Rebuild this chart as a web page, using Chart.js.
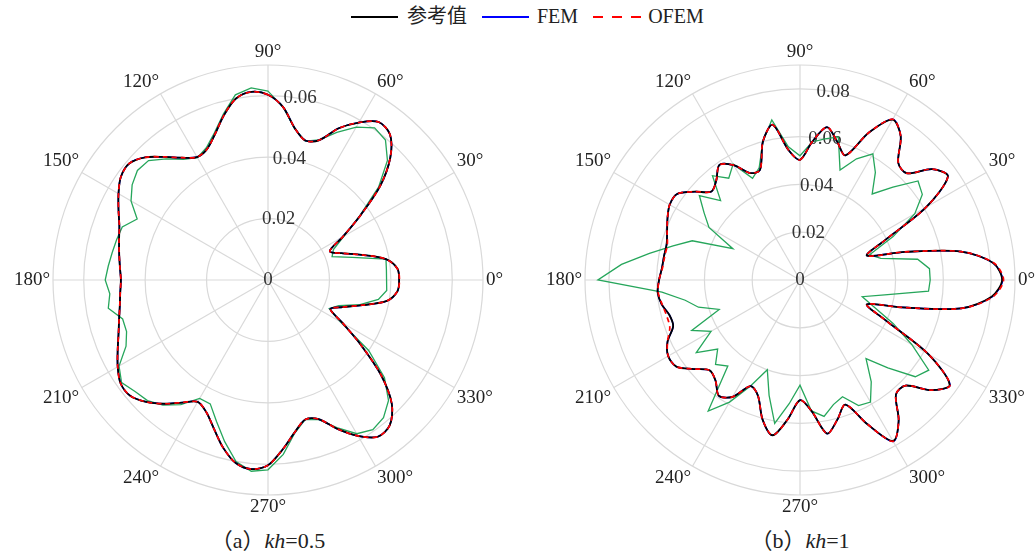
<!DOCTYPE html>
<html>
<head>
<meta charset="utf-8">
<script src="https://cdn.jsdelivr.net/npm/chart.js@4.4.0/dist/chart.umd.min.js"></script>
<style>
  body { margin: 0; width: 1036px; height: 555px; overflow: hidden; background: #fff; position: relative;
         font-family: "Liberation Serif", "Noto Sans CJK SC", serif; color: #222; }
  .plot { position: absolute; top: 43px; width: 600px; height: 474px; }
  .legend { position: absolute; top: 5px; left: 351px; display: flex; align-items: center;
            font-size: 20px; line-height: 23px; white-space: nowrap; }
  .swatch { display: inline-block; width: 47px; height: 2px; }
  .caption { position: absolute; top: 529px; width: 240px; text-align: center; font-size: 22px; line-height: 24px; }
</style>
</head>
<body>
<div class="legend">
  <span class="swatch" style="background:#000;margin-right:9px"></span><span style="margin-right:15px">参考值</span>
  <span class="swatch" style="background:#0000ff;margin-right:8px"></span><span style="margin-right:15px">FEM</span>
  <span class="swatch" style="width:49px;margin-right:6px;background:repeating-linear-gradient(90deg,#ff0000 0 10px,transparent 10px 19px)"></span><span>OFEM</span>
</div>
<div class="plot" style="left:-32px"><canvas id="chartA" width="600" height="474"></canvas></div>
<div class="plot" style="left:500px"><canvas id="chartB" width="600" height="474"></canvas></div>
<div class="caption" style="left:148px">（a）<i>kh</i>=0.5</div>
<div class="caption" style="left:680px">（b）<i>kh</i>=1</div>
<script>
// Angles of the samples, degrees, counter-clockwise from 0° (right)
const angles = Array.from({ length: 72 }, (_, i) => i * 5);

// Radial tick labels
const tickValuesA = [0, 0.02, 0.04, 0.06];
const tickValuesB = [0, 0.02, 0.04, 0.06, 0.08];
const maxA = 0.07;
const maxB = 0.09;

// (a) kh=0.5, one value per angle in `angles`
const refA = [0.0427, 0.0423, 0.039, 0.0316, 0.0255, 0.0222, 0.0281, 0.0368, 0.0477, 0.0563, 0.0618, 0.0628,
  0.0592, 0.0545, 0.0484, 0.047, 0.0502, 0.0565, 0.0603, 0.0615, 0.06, 0.0555, 0.0505, 0.047,
  0.0462, 0.0486, 0.0523, 0.0565, 0.059, 0.0585, 0.0562, 0.0537, 0.0515, 0.0502, 0.0492, 0.0484,
  0.0479, 0.0483, 0.049, 0.0502, 0.0518, 0.054, 0.0565, 0.0586, 0.0586, 0.0561, 0.0526, 0.0487,
  0.0458, 0.0475, 0.0515, 0.0565, 0.0605, 0.0618, 0.0603, 0.0553, 0.0503, 0.047, 0.0482, 0.0535,
  0.0586, 0.0623, 0.0617, 0.057, 0.048, 0.037, 0.0281, 0.0224, 0.0258, 0.0317, 0.0393, 0.0423];
const femA = [0.0427, 0.0423, 0.039, 0.0316, 0.0255, 0.0222, 0.0281, 0.0368, 0.0477, 0.0563, 0.0618, 0.0628,
  0.0592, 0.0545, 0.0484, 0.047, 0.0502, 0.0565, 0.0603, 0.0615, 0.06, 0.0555, 0.0505, 0.047,
  0.0462, 0.0486, 0.0523, 0.0565, 0.059, 0.0585, 0.0562, 0.0537, 0.0515, 0.0502, 0.0492, 0.0484,
  0.0479, 0.0483, 0.049, 0.0502, 0.0518, 0.054, 0.0565, 0.0586, 0.0586, 0.0561, 0.0526, 0.0487,
  0.0458, 0.0475, 0.0515, 0.0565, 0.0605, 0.0618, 0.0603, 0.0553, 0.0503, 0.047, 0.0482, 0.0535,
  0.0586, 0.0623, 0.0617, 0.057, 0.048, 0.037, 0.0281, 0.0224, 0.0258, 0.0317, 0.0393, 0.0423];
const ofemA = [0.0428, 0.0423, 0.039, 0.0316, 0.0255, 0.0222, 0.0281, 0.0368, 0.0477, 0.0563, 0.0618, 0.0628,
  0.0592, 0.0545, 0.0484, 0.047, 0.0502, 0.0565, 0.0603, 0.0615, 0.06, 0.0555, 0.0505, 0.047,
  0.0462, 0.0486, 0.0523, 0.0565, 0.059, 0.0585, 0.0562, 0.0537, 0.0515, 0.0502, 0.0492, 0.0484,
  0.0479, 0.0483, 0.049, 0.0502, 0.0518, 0.054, 0.0565, 0.0586, 0.0586, 0.0561, 0.0526, 0.0487,
  0.0458, 0.0475, 0.0515, 0.0565, 0.0605, 0.0618, 0.0603, 0.0553, 0.0503, 0.047, 0.0482, 0.0535,
  0.0586, 0.0623, 0.0617, 0.057, 0.048, 0.037, 0.0281, 0.0224, 0.0258, 0.0317, 0.0393, 0.0423];
const greenA = [0.0386, 0.0387, 0.039, 0.0284, 0.0222, 0.0235, 0.0285, 0.0365, 0.047, 0.055, 0.0595, 0.0605,
  0.0575, 0.053, 0.0485, 0.0468, 0.05, 0.0565, 0.0615, 0.0628, 0.0612, 0.056, 0.051, 0.0475,
  0.046, 0.048, 0.0515, 0.055, 0.0555, 0.054, 0.0515, 0.047, 0.0505, 0.051, 0.0515, 0.0522,
  0.053, 0.0517, 0.0528, 0.049, 0.049, 0.051, 0.056, 0.0582, 0.0565, 0.0555, 0.0532, 0.0495,
  0.0445, 0.0445, 0.049, 0.0545, 0.06, 0.0625, 0.0618, 0.057, 0.0505, 0.047, 0.0484, 0.053,
  0.0578, 0.0595, 0.0585, 0.0555, 0.0495, 0.04, 0.0272, 0.022, 0.0245, 0.031, 0.0365, 0.0388];

// (b) kh=1
const refB = [0.0846, 0.0812, 0.0685, 0.0454, 0.0298, 0.039, 0.061, 0.0756, 0.0722, 0.0632, 0.064, 0.0735,
  0.0775, 0.068, 0.0555, 0.06, 0.065, 0.058, 0.0503, 0.0545, 0.066, 0.06, 0.049, 0.0494,
  0.0555, 0.0588, 0.0545, 0.0524, 0.0575, 0.0628, 0.063, 0.0612, 0.0592, 0.0578, 0.0578, 0.058,
  0.059, 0.0598, 0.0588, 0.0566, 0.0565, 0.0612, 0.0637, 0.0632, 0.058, 0.0535, 0.055, 0.0592,
  0.0565, 0.049, 0.0515, 0.0605, 0.066, 0.0585, 0.0503, 0.055, 0.0653, 0.0605, 0.0555, 0.0665,
  0.0778, 0.072, 0.0625, 0.0625, 0.0717, 0.0765, 0.062, 0.039, 0.0298, 0.0443, 0.0685, 0.0805];
const femB = [0.0848, 0.0812, 0.0685, 0.0454, 0.0298, 0.039, 0.061, 0.0756, 0.0722, 0.0632, 0.064, 0.0735,
  0.0777, 0.068, 0.0555, 0.06, 0.065, 0.058, 0.0503, 0.0545, 0.066, 0.06, 0.049, 0.0494,
  0.0555, 0.0588, 0.0545, 0.0524, 0.0575, 0.0628, 0.063, 0.0612, 0.0592, 0.0578, 0.0578, 0.058,
  0.059, 0.0598, 0.0588, 0.0566, 0.0565, 0.0612, 0.0637, 0.0632, 0.058, 0.0535, 0.055, 0.0592,
  0.0565, 0.049, 0.0515, 0.0605, 0.066, 0.0585, 0.0503, 0.055, 0.0653, 0.0605, 0.0555, 0.0665,
  0.078, 0.072, 0.0625, 0.0625, 0.0717, 0.0767, 0.062, 0.039, 0.0298, 0.0443, 0.0685, 0.0807];
const ofemB = [0.0852, 0.0815, 0.0685, 0.0454, 0.0298, 0.039, 0.061, 0.0756, 0.0722, 0.0632, 0.064, 0.0735,
  0.0777, 0.068, 0.0555, 0.06, 0.065, 0.058, 0.0503, 0.0545, 0.066, 0.06, 0.049, 0.0494,
  0.0555, 0.0588, 0.0545, 0.0524, 0.0575, 0.0628, 0.063, 0.0612, 0.0592, 0.0575, 0.0575, 0.0578,
  0.059, 0.0596, 0.0586, 0.0578, 0.058, 0.0612, 0.0637, 0.0632, 0.058, 0.0535, 0.055, 0.0592,
  0.0565, 0.049, 0.0515, 0.0605, 0.066, 0.0585, 0.0503, 0.055, 0.0653, 0.0605, 0.0555, 0.0665,
  0.078, 0.072, 0.0625, 0.0625, 0.0717, 0.0767, 0.062, 0.039, 0.0298, 0.0443, 0.0685, 0.081];
const greenB = [0.0545, 0.0544, 0.05, 0.035, 0.031, 0.043, 0.0555, 0.0625, 0.0645, 0.055, 0.047, 0.055,
  0.061, 0.056, 0.049, 0.062, 0.06, 0.058, 0.052, 0.056, 0.068, 0.06, 0.05, 0.047,
  0.056, 0.052, 0.057, 0.047, 0.055, 0.049, 0.044, 0.031, 0.048, 0.055, 0.064, 0.075,
  0.0846, 0.058, 0.0488, 0.044, 0.036, 0.05, 0.043, 0.053, 0.045, 0.05, 0.047, 0.067,
  0.059, 0.049, 0.04, 0.05, 0.061, 0.052, 0.044, 0.055, 0.058, 0.054, 0.052, 0.058,
  0.059, 0.052, 0.043, 0.052, 0.063, 0.0658, 0.054, 0.043, 0.033, 0.027, 0.036, 0.054];

// Chart.js radar runs clockwise from the top, so list the angles 90°, 85°, ... , 95°
const radarAngles = angles.map((_, i) => (450 - 5 * i) % 360);
const toRadar = arr => radarAngles.map(a => arr[a / 5]);

const serif = '"Liberation Serif", "Times New Roman", serif';
const gridColor = '#d9d9d9';

// draws the r tick labels along the 80° ray, under the curves
const rTickLabels = {
  id: 'rTickLabels',
  beforeDatasetsDraw(chart, args, opts) {
    const s = chart.scales.r;
    const ctx = chart.ctx;
    const a = 80 * Math.PI / 180;
    ctx.save();
    ctx.font = '19px ' + serif;
    ctx.fillStyle = '#333';
    ctx.textAlign = 'center';
    ctx.textBaseline = 'middle';
    opts.values.forEach(v => {
      const d = s.getDistanceFromCenterForValue(v);
      ctx.fillText(v === 0 ? '0' : v.toFixed(2), s.xCenter + d * Math.cos(a), s.yCenter - d * Math.sin(a));
    });
    ctx.restore();
  }
};

function makeChart(id, ref, fem, ofem, green, tickValues, max) {
  const line = { fill: false, pointRadius: 0, backgroundColor: 'transparent' };
  new Chart(document.getElementById(id), {
    type: 'radar',
    data: {
      labels: radarAngles.map(a => a + '°'),
      datasets: [
        { ...line, label: 'OFEM', data: toRadar(ofem), borderColor: '#ff0000', borderWidth: 1.7, borderDash: [5, 4], tension: 0.3 },
        { ...line, label: '参考值', data: toRadar(ref), borderColor: '#000000', borderWidth: 1.8, tension: 0.3 },
        { ...line, label: 'FEM', data: toRadar(fem), borderColor: '#0000ff', borderWidth: 1.6, tension: 0.3 },
        { ...line, label: '', data: toRadar(green), borderColor: '#26a65b', borderWidth: 1.3, tension: 0 }
      ]
    },
    options: {
      responsive: false,
      animation: false,
      events: [],
      scales: {
        r: {
          min: 0,
          max: max,
          afterBuildTicks: scale => {
            scale.ticks = tickValues.concat(max).map(v => ({ value: v }));
          },
          ticks: { display: false },
          grid: { circular: true, color: gridColor, lineWidth: 1.2 },
          angleLines: {
            color: gridColor,
            lineWidth: ctx => (ctx.index % 6 === 0 ? 1.2 : 0)
          },
          pointLabels: {
            padding: 3,
            color: '#222',
            font: { family: serif, size: 19, lineHeight: 1 },
            callback: (label, i) => (radarAngles[i] % 30 === 0 ? label : '')
          }
        }
      },
      plugins: {
        legend: { display: false },
        tooltip: { enabled: false },
        rTickLabels: { values: tickValues }
      }
    },
    plugins: [rTickLabels]
  });
}

// make sure the serif face is ready before the canvas text is drawn
document.fonts.load('19px "Liberation Serif"').then(() => {
  makeChart('chartA', refA, femA, ofemA, greenA, tickValuesA, maxA);
  makeChart('chartB', refB, femB, ofemB, greenB, tickValuesB, maxB);
});
</script>
</body>
</html>
